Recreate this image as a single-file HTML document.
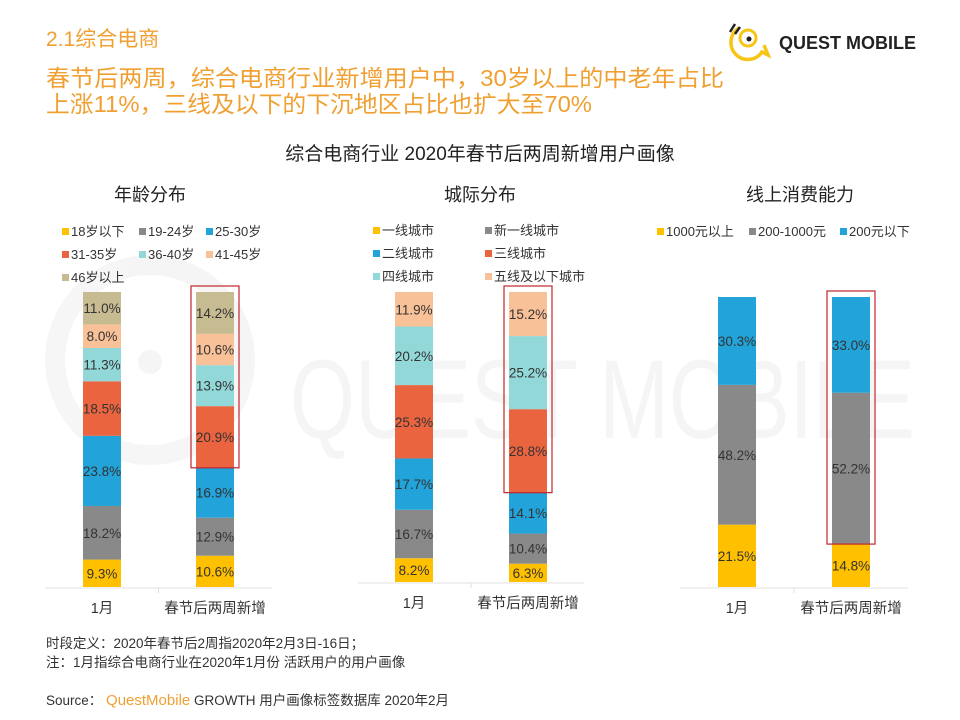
<!DOCTYPE html>
<html><head><meta charset="utf-8">
<style>
body{margin:0;background:#fff;}
svg{display:block;font-family:"Liberation Sans","Noto Sans CJK SC",sans-serif;}
</style></head>
<body>
<svg id="s" width="960" height="720" viewBox="0 0 960 720" xmlns="http://www.w3.org/2000/svg">
<g opacity="0.035">
<circle cx="150" cy="360" r="95" fill="none" stroke="#000" stroke-width="20"/>
<circle cx="150" cy="362" r="12" fill="#000"/>
<text x="290" y="438" font-size="112" fill="#000" textLength="625" lengthAdjust="spacingAndGlyphs">QUEST MOBILE</text>
</g>
<text x="46" y="46" font-size="21" fill="#f0a032">2.1综合电商</text>
<text x="46" y="86" font-size="23" fill="#f0a032" textLength="678" lengthAdjust="spacingAndGlyphs">春节后两周，综合电商行业新增用户中，30岁以上的中老年占比</text>
<text x="46" y="112" font-size="23" fill="#f0a032" textLength="546" lengthAdjust="spacingAndGlyphs">上涨11%，三线及以下的下沉地区占比也扩大至70%</text>
<g>
<path d="M 739 28 A 17 17 0 1 0 762 52 L 768 55 L 764 45" fill="none" stroke="#f5c518" stroke-width="3.5"/>
<circle cx="748" cy="38" r="8" fill="none" stroke="#f5c518" stroke-width="3"/>
<circle cx="749" cy="39" r="2.5" fill="#222"/>
<path d="M 730 32 L 735 24 M 735 34 L 740 27" stroke="#222" stroke-width="2.5"/>
<text x="779" y="49" font-size="18" font-weight="bold" fill="#222">QUEST MOBILE</text>
</g>
<text x="480" y="160" font-size="19" fill="#222" text-anchor="middle">综合电商行业 2020年春节后两周新增用户画像</text>
<text x="150" y="201" font-size="18" fill="#222" text-anchor="middle">年龄分布</text>
<text x="480" y="201" font-size="18" fill="#222" text-anchor="middle">城际分布</text>
<text x="800" y="201" font-size="18" fill="#222" text-anchor="middle">线上消费能力</text>
<g id="charts"></g>
<g font-size="13.5" fill="#333">
<text x="46" y="648">时段定义：2020年春节后2周指2020年2月3日-16日；</text>
<text x="46" y="667">注：1月指综合电商行业在2020年1月份 活跃用户的用户画像</text>
<text x="46" y="705">Source： <tspan fill="#f0a032" font-size="15">QuestMobile</tspan> GROWTH 用户画像标签数据库 2020年2月</text>
</g>
</svg>
<script>
const categories = ["1月", "春节后两周新增"];
const ageSeries = ["18岁以下","19-24岁","25-30岁","31-35岁","36-40岁","41-45岁","46岁以上"];
const ageJan = [9.3, 18.2, 23.8, 18.5, 11.3, 8.0, 11.0];
const ageNew = [10.6, 12.9, 16.9, 20.9, 13.9, 10.6, 14.2];
const citySeries = ["一线城市","新一线城市","二线城市","三线城市","四线城市","五线及以下城市"];
const cityJan = [8.2, 16.7, 17.7, 25.3, 20.2, 11.9];
const cityNew = [6.3, 10.4, 14.1, 28.8, 25.2, 15.2];
const spendSeries = ["1000元以上","200-1000元","200元以下"];
const spendJan = [21.5, 48.2, 30.3];
const spendNew = [14.8, 52.2, 33.0];

const colors = ["#ffc000","#898989","#22a3d9","#ea643f","#93d8d8","#f9c197","#c6bb91"];
const NS = "http://www.w3.org/2000/svg";
const root = document.getElementById("charts");
function mk(tag, attrs, parent){const e=document.createElementNS(NS,tag);for(const k in attrs)e.setAttribute(k,attrs[k]);parent.appendChild(e);return e;}

function chart(cfg){
  const g = mk("g",{},root);
  
  
  const total = v => v.reduce((a,b)=>a+b,0);
  const ax = mk("line",{x1:cfg.axisX0,x2:cfg.axisX1,y1:cfg.bottom+1,y2:cfg.bottom+1,stroke:"#e0e0e0"},g);
  
  
  const step = (cfg.axisX1-cfg.axisX0)/2;
  [cfg.jan, cfg.nw].forEach((vals, bi) => {
    const cx = cfg.centers[bi];
    const sum = total(vals);
    const scale = v => v/sum*(cfg.bottom-cfg.top);
    let y = cfg.bottom;
    vals.forEach((v,i) => {
      const h = scale(v);
      const r = mk("rect",{x:cx-cfg.bw/2,y:y-h,width:cfg.bw,height:h,fill:colors[i]},g);
      
      
      const t = mk("text",{x:cx,y:y-h/2+5,"font-size":13.5,fill:"#333","text-anchor":"middle"},g);
      
      
      t.textContent = v.toFixed(1)+"%";
      y -= h;
    });
    const lt = mk("text",{x:cx,y:cfg.bottom+26,"font-size":14.5,fill:"#333","text-anchor":"middle"},g);
    
    
    lt.textContent = categories[bi];
    if(bi===0){
      const tk = mk("line",{x1:cfg.axisX0+step,x2:cfg.axisX0+step,y1:cfg.bottom+1,y2:cfg.bottom+6,stroke:"#e0e0e0"},g);
      
      
    }
  });
  const nv = cfg.nw, sum = total(nv);
  const sc = v => v/sum*(cfg.bottom-cfg.top);
  const lowSum = nv.slice(0,cfg.hiFrom).reduce((a,b)=>a+b,0);
  const boxBottom = cfg.bottom - sc(lowSum);
  const hb = mk("rect",{x:cfg.centers[1]-cfg.bw/2-5,y:cfg.top-6,width:cfg.bw+10,height:boxBottom-cfg.top+6,fill:"none",stroke:"#c0262d","stroke-width":1.2},g);
  
  
  cfg.series.forEach((s,i)=>{
    const lx = cfg.legX[i%cfg.legCols], ly = cfg.legY + Math.floor(i/cfg.legCols)*23;
    const lg = mk("g",{},g);
    
    
    mk("rect",{x:lx,y:ly-8,width:7,height:7,fill:colors[i]},lg);
    const tt = mk("text",{x:lx+9,y:ly,"font-size":13,fill:"#333"},lg);
    tt.textContent = s;
  });
}
chart({name:"age-chart",series:ageSeries,jan:ageJan,nw:ageNew,centers:[102,215],bw:38,top:292,bottom:587,axisX0:45,axisX1:272,hiFrom:3,legX:[62,139,206],legCols:3,legY:236});
chart({name:"city-chart",series:citySeries,jan:cityJan,nw:cityNew,centers:[414,528],bw:38,top:292,bottom:582,axisX0:358,axisX1:584,hiFrom:3,legX:[373,485],legCols:2,legY:235});
chart({name:"spend-chart",series:spendSeries,jan:spendJan,nw:spendNew,centers:[737,851],bw:38,top:297,bottom:587,axisX0:680,axisX1:908,hiFrom:1,legX:[657,749,840],legCols:3,legY:236});
</script>
</body></html>
